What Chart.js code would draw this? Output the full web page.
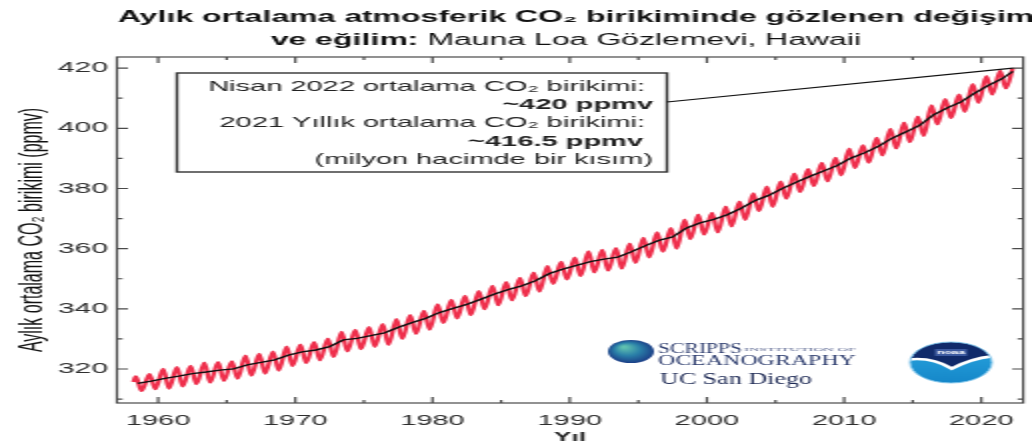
<!DOCTYPE html>
<html><head><meta charset="utf-8">
<script src="https://cdn.jsdelivr.net/npm/chart.js@4.4.1/dist/chart.umd.min.js"></script>
<style>
html,body{margin:0;padding:0;background:#fff;overflow:hidden;}
#wrap{width:516px;height:447px;transform:scaleX(2);transform-origin:0 0;}
canvas{display:block;}
</style></head><body>
<div id="wrap"><canvas id="c" width="516" height="447"></canvas></div>
<script>
// ---- data ----
const years = [1958,1959,1960,1961,1962,1963,1964,1965,1966,1967,1968,1969,1970,1971,1972,1973,1974,1975,1976,1977,1978,1979,1980,1981,1982,1983,1984,1985,1986,1987,1988,1989,1990,1991,1992,1993,1994,1995,1996,1997,1998,1999,2000,2001,2002,2003,2004,2005,2006,2007,2008,2009,2010,2011,2012,2013,2014,2015,2016,2017,2018,2019,2020,2021,2022];
// black line: de-seasonalised trend (yearly)
const trendValues = [315.2,315.98,316.91,317.64,318.45,318.99,319.62,320.04,321.37,322.18,323.05,324.62,325.68,326.32,327.46,329.68,330.19,331.12,332.03,333.84,335.41,336.84,338.76,340.12,341.48,343.15,344.87,346.35,347.61,349.31,351.69,353.20,354.45,355.70,356.54,357.21,358.96,360.97,362.74,363.88,366.84,368.54,369.71,371.32,373.45,375.98,377.70,379.98,382.09,384.02,385.83,387.64,390.10,391.85,394.06,396.74,398.81,401.01,404.41,406.76,408.72,411.66,414.24,416.45,418.9];
// red line: monthly means, seasonal maximum (May) and minimum (October)
const peakValues = [317.5,318.3,320.0,320.6,321.0,322.1,322.3,322.5,324.4,325.0,325.8,327.4,328.1,328.9,330.1,332.3,333.0,333.9,334.9,336.6,337.9,339.3,341.5,343.0,344.3,345.9,347.6,348.9,350.3,352.0,354.2,355.6,357.0,359.1,359.6,360.2,361.7,363.6,365.4,366.8,369.6,371.3,371.9,374.0,375.6,378.4,380.6,382.3,384.9,386.4,388.5,390.2,393.2,394.3,396.8,399.8,401.9,403.9,407.6,409.7,411.2,414.7,417.3,419.1,null];
const troughValues = [312.7,313.3,313.5,314.2,315.0,315.5,316.1,316.8,317.8,318.5,319.5,321.0,322.0,322.9,324.0,325.9,326.6,327.4,328.0,330.0,331.7,333.1,335.3,336.8,337.9,339.9,341.2,342.8,344.2,345.7,348.3,349.8,350.9,352.1,352.7,353.4,355.3,357.1,359.0,360.0,363.2,364.7,365.4,367.4,369.6,372.5,373.9,376.6,378.8,380.8,382.4,384.4,386.8,388.6,391.0,393.3,395.4,397.5,401.3,403.4,405.5,408.5,411.2,413.3,null];
const peakMonth = 5, troughMonth = 10;
const firstObs = {year: 1958, month: 3, value: 315.7};
const lastObs = {year: 2022, month: 4, value: 420.0};
const xTickValues = [1960,1970,1980,1990,2000,2010,2020];
const yTickValues = [320,340,360,380,400,420];
const xMinorTicks = [1960,1965,1970,1975,1980,1985,1990,1995,2000,2005,2010,2015,2020];
const yMinorTicks = [310,320,330,340,350,360,370,380,390,400,410,420];

const titleLine1 = 'Aylık ortalama atmosferik CO₂ birikiminde gözlenen değişim';
const titleLine2Bold = 've eğilim:';
const titleLine2Rest = ' Mauna Loa Gözlemevi, Hawaii';
const xAxisTitle = 'Yıl';
const boxLines = [
  {text: 'Nisan 2022 ortalama CO₂ birikimi:', bold: false},
  {text: '~420 ppmv', bold: true},
  {text: '2021 Yıllık ortalama CO₂ birikimi:', bold: false},
  {text: '~416.5 ppmv', bold: true},
  {text: '(milyon hacimde bir kısım)', bold: false}
];

// ---- build datasets ----
const monthX = (y, m) => y + (m - 0.5) / 12;
const xStart = monthX(firstObs.year, firstObs.month), xEnd = monthX(lastObs.year, lastObs.month);
const redPoints = [{x: xStart, y: firstObs.value}];
years.forEach((yr, i) => {
  if (peakValues[i] != null) redPoints.push({x: monthX(yr, peakMonth), y: peakValues[i]});
  if (troughValues[i] != null) redPoints.push({x: monthX(yr, troughMonth), y: troughValues[i]});
});
redPoints.push({x: xEnd, y: lastObs.value});
const trendPoints = years.map((yr, i) => ({x: Math.min(Math.max(yr + 0.5, xStart), xEnd), y: trendValues[i]}));

const SANS = '"Liberation Sans", Arial, "DejaVu Sans", sans-serif';
const SERIF = '"Liberation Serif", "Times New Roman", "DejaVu Serif", serif';

function fitText(ctx, text, x, y, w, font, color) {
  ctx.save();
  ctx.font = font; ctx.fillStyle = color; ctx.textAlign = 'left'; ctx.textBaseline = 'alphabetic';
  const m = ctx.measureText(text).width;
  ctx.translate(x, y); ctx.scale(w / m, 1);
  ctx.fillText(text, 0, 0);
  ctx.restore();
}

const decor = {
  id: 'decor',
  beforeDraw(chart) {
    const ctx = chart.ctx;
    ctx.save(); ctx.fillStyle = '#fff'; ctx.fillRect(0, 0, chart.width, chart.height); ctx.restore();
  },
  afterDraw(chart) {
    const ctx = chart.ctx;
    const {left, right, top, bottom} = chart.chartArea;
    const xs = chart.scales.x, ys = chart.scales.y;
    ctx.save();
    // title
    ctx.fillStyle = '#111'; ctx.textBaseline = 'middle'; ctx.textAlign = 'center';
    ctx.font = 'bold 16px ' + SANS;
    ctx.fillText(titleLine1, 288, 18);
    ctx.font = 'bold 16px ' + SANS; const wb = ctx.measureText(titleLine2Bold).width;
    ctx.font = '16px ' + SANS; const wr = ctx.measureText(titleLine2Rest).width;
    let sx = 283 - (wb + wr) / 2;
    ctx.textAlign = 'left';
    ctx.font = 'bold 16px ' + SANS; ctx.fillText(titleLine2Bold, sx, 41);
    ctx.font = '16px ' + SANS; ctx.fillText(titleLine2Rest, sx + wb, 41);

    // x-axis title
    ctx.textAlign = 'center'; ctx.fillStyle = '#222';
    ctx.font = 'bold 13px ' + SANS;
    ctx.fillText(xAxisTitle, (left + right) / 2, 437);

    // frame + inward ticks
    ctx.strokeStyle = '#4a4a4a'; ctx.lineWidth = 1.2;
    ctx.strokeRect(left, top, right - left, bottom - top);
    ctx.beginPath();
    yMinorTicks.forEach(v => {
      const py = ys.getPixelForValue(v);
      const len = yTickValues.includes(v) ? 5.5 : 2.8;
      ctx.moveTo(left, py); ctx.lineTo(left + len, py);
      ctx.moveTo(right, py); ctx.lineTo(right - len, py);
    });
    xMinorTicks.forEach(v => {
      const px = xs.getPixelForValue(v);
      const len = xTickValues.includes(v) ? 6 : 3;
      ctx.moveTo(px, bottom); ctx.lineTo(px, bottom - len);
      ctx.moveTo(px, top); ctx.lineTo(px, top + len);
    });
    ctx.stroke();

    // annotation box
    const bx0 = 88.5, bx1 = 333.5, by0 = 73, by1 = 172;
    ctx.fillStyle = '#fff'; ctx.fillRect(bx0, by0, bx1 - bx0, by1 - by0);
    ctx.strokeStyle = '#333'; ctx.lineWidth = 1.4; ctx.strokeRect(bx0, by0, bx1 - bx0, by1 - by0);
    const lineY = [87, 105, 123, 142, 160];
    const lineR = [322.5, 326.5, 322.5, 321.5, 326.5];
    ctx.fillStyle = '#222'; ctx.textAlign = 'right'; ctx.textBaseline = 'middle';
    boxLines.forEach((l, i) => {
      ctx.font = (l.bold ? 'bold ' : '') + '14.5px ' + SANS;
      ctx.fillText(l.text, lineR[i], lineY[i]);
    });
    // connector to April 2022 point
    ctx.strokeStyle = '#111'; ctx.lineWidth = 1.1;
    ctx.beginPath(); ctx.moveTo(bx1, 102);
    ctx.lineTo(xs.getPixelForValue(xEnd), ys.getPixelForValue(lastObs.value)); ctx.stroke();

    // Scripps logo
    const g = ctx.createRadialGradient(312, 347, 1, 315.5, 351.5, 12);
    g.addColorStop(0, '#5fc0b0'); g.addColorStop(0.5, '#2a7fa8'); g.addColorStop(1, '#1b3c86');
    ctx.fillStyle = g; ctx.beginPath(); ctx.arc(315.5, 351.5, 11.5, 0, Math.PI * 2); ctx.fill();
    fitText(ctx, 'SCRIPPS', 329, 353, 42, '15px ' + SERIF, '#2a3a6c');
    fitText(ctx, 'INSTITUTION OF', 372, 351, 56, '5px ' + SERIF, '#5a6690');
    fitText(ctx, 'OCEANOGRAPHY', 329, 365, 99, '15px ' + SERIF, '#2a3a6c');
    fitText(ctx, 'UC San Diego', 330, 384, 76, '17px ' + SERIF, '#1e2a55');

    // NOAA logo
    const cx = 475.5, cy = 362.5, r = 20.5;
    ctx.save();
    ctx.beginPath(); ctx.arc(cx, cy, r, 0, Math.PI * 2);
    const g2 = ctx.createLinearGradient(0, cy - r, 0, cy + r);
    g2.addColorStop(0, '#2aa6e0'); g2.addColorStop(1, '#1587c9');
    ctx.fillStyle = g2; ctx.fill(); ctx.clip();
    const wave = () => {
      ctx.moveTo(cx - r, cy - 0.15 * r);
      ctx.quadraticCurveTo(cx - 0.45 * r, cy - 0.25 * r, cx + 0.02 * r, cy + 0.3 * r);
      ctx.quadraticCurveTo(cx + 0.5 * r, cy - 0.2 * r, cx + r, cy - 0.3 * r);
    };
    ctx.beginPath(); ctx.moveTo(cx - r, cy - r); ctx.lineTo(cx - r, cy - 0.15 * r);
    ctx.quadraticCurveTo(cx - 0.45 * r, cy - 0.25 * r, cx + 0.02 * r, cy + 0.3 * r);
    ctx.quadraticCurveTo(cx + 0.5 * r, cy - 0.2 * r, cx + r, cy - 0.3 * r);
    ctx.lineTo(cx + r, cy - r); ctx.closePath();
    ctx.fillStyle = '#102a6a'; ctx.fill();
    ctx.beginPath(); wave(); ctx.strokeStyle = '#fff'; ctx.lineWidth = 2.5; ctx.stroke();
    ctx.restore();
    ctx.fillStyle = '#3c5aa0'; ctx.fillRect(cx - 8, cy - 13.5, 16, 7);
    ctx.fillStyle = '#fff'; ctx.font = 'bold 6px ' + SANS; ctx.textAlign = 'center'; ctx.textBaseline = 'middle';
    ctx.fillText('noaa', cx, cy - 10);
    ctx.beginPath(); ctx.arc(cx, cy, r, 0, Math.PI * 2); ctx.strokeStyle = '#8ccbee'; ctx.lineWidth = 1; ctx.stroke();
    ctx.restore();
  }
};

new Chart(document.getElementById('c'), {
  type: 'line',
  data: {
    datasets: [
      {label: 'Trend', data: trendPoints, borderColor: '#111', borderWidth: 1.4, pointRadius: 0, tension: 0},
      {label: 'Aylık ortalama', data: redPoints, borderColor: '#ef2f4c', borderWidth: 2.3, pointRadius: 0, cubicInterpolationMode: 'monotone'}
    ]
  },
  options: {
    responsive: false, animation: false, devicePixelRatio: 1,
    layout: {padding: {top: 57, right: 4, bottom: 0, left: 0}},
    plugins: {legend: {display: false}, tooltip: {enabled: false}, title: {display: false}},
    scales: {
      x: {
        type: 'linear', min: 1957, max: 2023.05,
        afterFit: s => { s.height = 44; },
        afterBuildTicks: s => { s.ticks = xTickValues.map(v => ({value: v})); },
        grid: {display: false, drawTicks: false}, border: {display: false},
        ticks: {callback: v => String(v), font: {family: SANS, size: 14.5}, color: '#2e2e2e', padding: 9, maxRotation: 0, autoSkip: false},
        title: {display: false}
      },
      y: {
        min: 308.7, max: 423.7,
        afterFit: s => { s.width = 58.5; },
        afterBuildTicks: s => { s.ticks = yTickValues.map(v => ({value: v})); },
        grid: {display: false, drawTicks: false}, border: {display: false},
        ticks: {callback: v => String(v), font: {family: SANS, size: 15}, color: '#2e2e2e', padding: 4.5},
        title: {display: true, text: 'Aylık ortalama CO₂ birikimi (ppmv)', font: {family: SANS, size: 16}, color: '#111', padding: {top: 6.5, bottom: 0}}
      }
    }
  },
  plugins: [decor]
});
</script>
</body></html>
